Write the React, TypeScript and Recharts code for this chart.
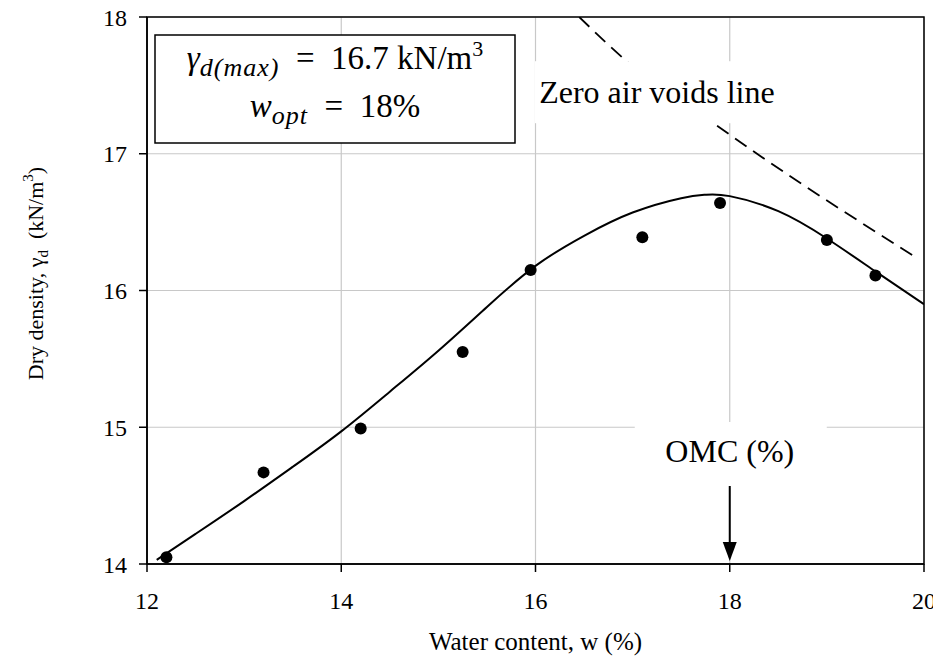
import {
  ComposedChart,
  Line,
  Scatter,
  XAxis,
  YAxis,
  CartesianGrid,
  ReferenceArea,
  ReferenceDot,
  Label,
} from "recharts";

const SERIF = "Liberation Serif";

const W_TICKS = [12, 14, 16, 18, 20];
const GD_TICKS = [14, 15, 16, 17, 18];

// compaction test points
const TEST_W = [12.2, 13.2, 14.2, 15.25, 15.95, 17.1, 17.9, 19.0, 19.5];
const TEST_GD = [14.05, 14.67, 14.99, 15.55, 16.15, 16.39, 16.64, 16.37, 16.11];

// fitted compaction curve
const FIT_W = [12.1, 12.5, 13, 13.5, 14, 14.5, 15, 15.5, 16, 16.5, 17, 17.5, 17.75, 18, 18.5, 19, 19.5, 20];
const FIT_GD = [14.03, 14.22, 14.46, 14.71, 14.97, 15.26, 15.56, 15.88, 16.18, 16.4, 16.57, 16.675, 16.7, 16.69, 16.58, 16.38, 16.14, 15.9];

// zero air voids line
const ZAV_W = [16.45, 17, 17.8, 18.24, 19.9];
const ZAV_GD = [18, 17.64, 17.24, 17.02, 16.25];

const GD_MAX = 16.7;
const W_OPT = 18;

const testData = TEST_W.map((w, i) => ({ w, gd: TEST_GD[i] }));
const fitData = FIT_W.map((w, i) => ({ w, gd: FIT_GD[i] }));
const zavData = ZAV_W.map((w, i) => ({ w, gd: ZAV_GD[i] }));

function XTick(p: any) {
  return (
    <text x={p.x} y={p.y} dy="0.71em" textAnchor="middle" fontSize={24} fontFamily={SERIF} fill="#000">
      {p.payload.value}
    </text>
  );
}

function YTick(p: any) {
  return (
    <text x={p.x} y={p.y} dy="0.36em" textAnchor="end" fontSize={24} fontFamily={SERIF} fill="#000">
      {p.payload.value}
    </text>
  );
}

function XTitle(props: any) {
  const vb = props.viewBox || {};
  return (
    <text x={vb.x + vb.width / 2} y={vb.y + 86} textAnchor="middle" fontSize={25} fontFamily={SERIF} fill="#000">
      Water content, w (%)
    </text>
  );
}

function YTitle(props: any) {
  const vb = props.viewBox || {};
  const cx = vb.x + 26;
  const cy = vb.y + vb.height / 2 - 17;
  return (
    <text
      x={cx}
      y={cy}
      transform={`rotate(-90 ${cx} ${cy})`}
      textAnchor="middle"
      fontSize={22}
      fontFamily={SERIF}
      fill="#000"
    >
      Dry density, γ
      <tspan fontSize={15} dy={5}>d</tspan>
      <tspan dy={-5}>{"\u00a0\u00a0(kN/m"}</tspan>
      <tspan fontSize={15} dy={-10}>3</tspan>
      <tspan dy={10}>)</tspan>
    </text>
  );
}

function SummaryBox(p: any) {
  const x = p.cx + 8;
  const y = p.cy + 18;
  const mid = x + 180;
  return (
    <g>
      <rect x={x} y={y} width={360} height={108} fill="#fff" stroke="#000" strokeWidth={1.5} />
      <text x={mid} y={y + 34} textAnchor="middle" fontSize={33} fontFamily={SERIF} fill="#000">
        <tspan fontStyle="italic">γ</tspan>
        <tspan fontStyle="italic" fontSize={26} dy={7} letterSpacing={1}>d(max)</tspan>
        <tspan dy={-7}>{`\u2002=\u2002${GD_MAX} kN/m`}</tspan>
        <tspan fontSize={22} dy={-13}>3</tspan>
      </text>
      <text x={mid} y={y + 82} textAnchor="middle" fontSize={33} fontFamily={SERIF} fill="#000">
        <tspan fontStyle="italic">w</tspan>
        <tspan fontStyle="italic" fontSize={26} dy={7} letterSpacing={1}>opt</tspan>
        <tspan dy={-7}>{`\u2002=\u2002${W_OPT}%`}</tspan>
      </text>
    </g>
  );
}

function ZavLabel(p: any) {
  return (
    <g>
      <rect x={p.cx - 122} y={p.cy - 31} width={250} height={62} fill="#fff" />
      <text x={p.cx} y={p.cy + 11} textAnchor="middle" fontSize={32} fontFamily={SERIF} fill="#000">
        Zero air voids line
      </text>
    </g>
  );
}

function OmcMarker(p: any) {
  const { cx, cy } = p;
  return (
    <g>
      <rect x={cx - 95} y={cy - 142} width={192} height={66} fill="#fff" />
      <text x={cx} y={cy - 102} textAnchor="middle" fontSize={32} fontFamily={SERIF} fill="#000">
        OMC (%)
      </text>
      <line x1={cx} y1={cy - 78} x2={cx} y2={cy - 20} stroke="#000" strokeWidth={2} />
      <polygon points={`${cx - 7},${cy - 22} ${cx + 7},${cy - 22} ${cx},${cy - 3}`} fill="#000" />
    </g>
  );
}

export default function App() {
  return (
    <div style={{ fontFamily: SERIF }}>
      <style>{`.recharts-surface { overflow: visible; }`}</style>
      <ComposedChart width={925} height={650} margin={{ top: 9, right: 9, bottom: 9, left: 9 }}>
        <CartesianGrid stroke="#c8c8c8" strokeWidth={1.2} />
        <XAxis
          dataKey="w"
          type="number"
          domain={[12, 20]}
          ticks={W_TICKS}
          tick={<XTick />}
          tickSize={8}
          tickMargin={20}
          height={85}
          axisLine={{ stroke: "#000", strokeWidth: 1.5 }}
          tickLine={{ stroke: "#000", strokeWidth: 1.5 }}
          allowDataOverflow
        >
          <Label content={<XTitle />} />
        </XAxis>
        <YAxis
          dataKey="gd"
          type="number"
          domain={[14, 18]}
          ticks={GD_TICKS}
          tick={<YTick />}
          tickSize={8}
          tickMargin={12}
          width={130}
          axisLine={{ stroke: "#000", strokeWidth: 1.5 }}
          tickLine={{ stroke: "#000", strokeWidth: 1.5 }}
          allowDataOverflow
        >
          <Label content={<YTitle />} />
        </YAxis>
        <ReferenceArea x1={12} x2={20} y1={14} y2={18} fill="none" stroke="#000" strokeWidth={1.5} />
        <Line
          data={zavData}
          dataKey="gd"
          type="monotone"
          stroke="#000"
          strokeWidth={1.8}
          strokeDasharray="14 8"
          dot={false}
          isAnimationActive={false}
        />
        <Line
          data={fitData}
          dataKey="gd"
          type="natural"
          stroke="#000"
          strokeWidth={2}
          dot={false}
          isAnimationActive={false}
        />
        <Scatter
          data={testData}
          dataKey="gd"
          fill="#000"
          isAnimationActive={false}
          shape={(p: any) => <circle cx={p.cx} cy={p.cy} r={6} fill="#000" />}
        />
        <ReferenceDot x={17.25} y={17.45} r={0} shape={(p: any) => <ZavLabel {...p} />} />
        <ReferenceDot x={W_OPT} y={14} r={0} shape={(p: any) => <OmcMarker {...p} />} />
        <ReferenceDot x={12} y={18} r={0} shape={(p: any) => <SummaryBox {...p} />} />
      </ComposedChart>
    </div>
  );
}
